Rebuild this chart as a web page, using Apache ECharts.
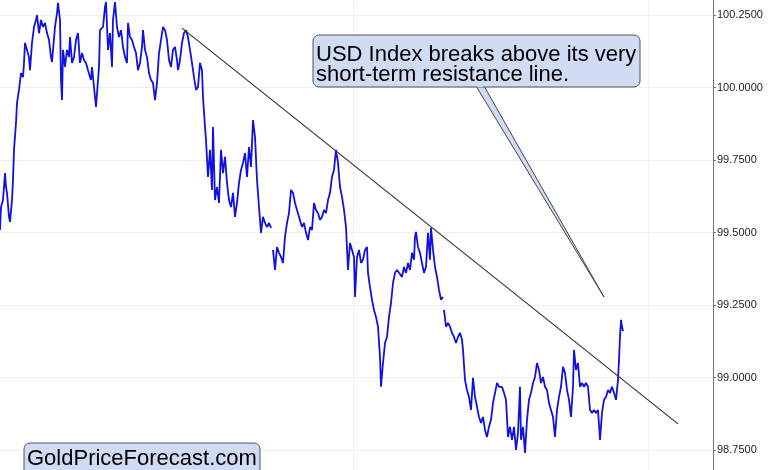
<!DOCTYPE html>
<html>
<head>
<meta charset="utf-8">
<script src="https://cdn.jsdelivr.net/npm/echarts@6/dist/echarts.min.js"></script>
<style>
html,body{margin:0;padding:0;background:#fff;}
#chart{width:780px;height:470px;}
</style>
</head>
<body>
<div id="chart"></div>
<script>
// Bar number (5-min bars along the session) for each close reading
const bars = [0,1,3,5,6,7,9,10,12,13,14,16,17,19,21,23,24,25,27,29,30,32,34,36,37,39,41,43,45,47,49,51,52,53,55,57,58,60,61,62,63,65,67,69,70,72,74,76,78,80,82,84,86,88,90,91,92,94,96,98,99,
100,103,105,106,108,110,112,113,115,117,119,121,123,125,127,128,130,132,134,136,138,140,142,143,145,147,149,151,153,155,157,159,161,163,165,167,169,171,173,175,177,178,180,182,184,186,188,190,192,194,196,198,
200,202,203,205,206,208,210,212,213,215,217,219,221,223,225,227,229,231,233,235,237,239,241,243,245,247,249,251,253,255,257,259,261,263,265,267,269,271,272,273,275,277,279,281,283,285,287,289,291,293,295,297,299,
302,304,306,308,310,312,314,316,318,320,322,324,326,328,330,332,334,336,338,340,342,344,346,348,350,352,354,355,357,359,361,363,365,367,368,370,372,374,376,378,380,381,383,385,387,389,391,393,395,397,399,
402,404,406,408,410,412,414,415,416,418,420,422,424,426,428,430,431,433,435,437,439,441,443,443.5,444,446,448,450,452,454,456,458,460,462,463,465,467,469,471,473,475,477,479,481,483,485,487,489,491,493,495,497,499,
502,504,506,508,510,512,514,516,518,520,521,523,525,527,529,531,533,535,537,539,541,543,545,547,549,551,553,555,557,559,561,563,565,567,569,571,573,574,576,578,580,582,584,586,588,590,592,594,596,598,
600,602,604,606,608,610,612,614,616,618,619,620,621,622,623];

// USD Index closes (null = session break)
const closes = [99.509,99.588,99.612,99.705,99.657,99.637,99.554,99.537,99.612,99.681,99.785,99.878,99.947,99.992,100.050,100.036,100.085,100.154,100.130,100.105,100.060,100.154,100.209,100.233,100.250,100.188,100.233,100.209,100.223,100.188,100.164,100.105,100.088,100.130,100.209,100.257,100.292,100.233,100.026,99.957,100.130,100.071,100.130,100.105,100.174,100.085,100.105,100.164,100.188,100.085,100.119,100.095,100.085,100.060,100.036,100.026,100.071,100.002,99.933,100.026,100.071,
100.198,100.209,100.278,100.295,100.130,100.188,100.071,100.233,100.295,100.209,100.174,100.198,100.140,100.105,100.085,100.223,100.174,100.164,100.140,100.119,100.060,100.085,100.140,100.198,100.130,100.105,100.050,100.026,100.016,99.957,100.016,100.119,100.164,100.209,100.198,100.164,100.095,100.071,100.130,100.140,100.095,100.060,100.095,100.154,100.188,100.198,100.174,100.130,100.085,100.036,99.992,100.002,
100.085,100.060,99.967,99.864,99.819,99.692,99.785,99.647,99.864,99.612,99.657,99.602,99.785,99.705,99.761,99.671,99.612,99.588,99.637,99.554,99.602,99.671,99.716,99.740,99.774,99.692,99.795,99.726,99.888,99.830,99.681,99.588,99.499,99.554,99.533,99.519,99.533,99.516,null,99.440,99.371,99.450,99.430,99.416,99.395,99.485,99.533,99.567,99.647,99.637,99.602,99.578,99.554,
99.519,99.533,99.499,99.474,99.519,99.509,99.602,99.578,99.567,99.543,99.554,99.578,99.567,99.612,99.637,99.692,99.716,99.785,99.740,99.657,99.623,99.578,99.519,99.371,99.464,99.440,99.416,99.278,99.416,99.440,99.395,99.406,99.440,99.450,99.361,99.312,99.268,99.233,99.209,99.175,99.071,98.968,99.050,99.119,99.140,99.209,99.257,99.326,99.361,99.371,99.361,
99.347,99.381,99.361,99.395,99.371,99.430,99.406,99.485,99.502,99.450,99.430,99.395,99.361,99.381,99.499,99.406,99.516,99.440,99.381,99.347,99.302,99.268,99.278,null,99.233,99.175,99.188,99.175,99.154,99.140,99.119,99.140,99.154,99.130,99.095,98.992,98.957,98.933,98.888,98.999,98.933,98.899,98.864,98.843,98.864,98.819,98.795,98.830,98.854,98.912,98.947,98.981,98.968,
98.968,98.947,98.923,98.795,98.830,98.785,98.830,98.750,98.809,98.968,98.785,98.830,98.740,98.854,98.923,98.947,98.981,99.002,99.050,99.026,98.981,99.002,98.968,98.957,98.912,98.888,98.864,98.795,98.888,98.933,98.968,99.037,99.016,98.957,98.923,98.864,98.968,99.095,99.026,99.050,98.968,98.981,98.968,98.981,98.968,98.888,98.878,98.888,98.878,98.888,
98.785,98.878,98.923,98.933,98.957,98.947,98.968,98.947,98.923,98.992,99.061,99.140,99.199,99.175,99.160];

// Resistance line anchors [bar, value]
const resistanceStart = [182, 100.205];
const resistanceEnd = [678, 98.840];

// Right-axis tick values / visible range / last price
const yTicks = [98.75, 99.0, 99.25, 99.5, 99.75, 100.0, 100.25];
const yRange = [98.681, 100.302];
const lastPrice = 99.16;
const sessionDividers = [353, 648];

const annotationLines = ['USD Index breaks above its very', 'short-term resistance line.'];
const watermark = 'GoldPriceForecast.com';

const seriesData = bars.map((b, i) => [b, closes[i] === null ? '-' : closes[i]]);

const chart = echarts.init(document.getElementById('chart'), null, {renderer: 'canvas'});
const FONT = '"Liberation Sans", Arial, Helvetica, sans-serif';
const boxFill = '#cfdcf4';

chart.setOption({
  animation: false,
  backgroundColor: '#ffffff',
  grid: {left: 0, right: 67, top: 0, bottom: 0},
  xAxis: {
    type: 'value', min: 0, max: 713,
    axisLine: {show: false}, axisTick: {show: false}, axisLabel: {show: false},
    splitLine: {show: false}
  },
  yAxis: {
    type: 'value', position: 'right', min: yRange[0], max: yRange[1],
    axisLine: {show: true, onZero: false, lineStyle: {color: '#777', width: 1}},
    axisTick: {show: true, length: 3, customValues: yTicks, lineStyle: {color: '#777'}},
    axisLabel: {
      show: true, margin: 4, color: '#222', fontSize: 11, fontFamily: FONT,
      customValues: yTicks,
      formatter: v => Number(v).toFixed(4)
    },
    splitLine: {show: false}
  },
  series: [
    {
      type: 'line', data: [], silent: true, z: 0,
      markLine: {
        silent: true, symbol: 'none', label: {show: false}, z: 0,
        lineStyle: {color: '#efefef', type: 'solid', width: 1},
        data: sessionDividers.map(d => ({xAxis: d})).concat(yTicks.map(t => ({yAxis: t})))
      }
    },
    {
      type: 'line', data: seriesData, showSymbol: false, connectNulls: false,
      lineStyle: {color: '#1212e0', width: 1.8}, z: 3,
      markLine: {
        silent: true, symbol: 'none', z: 6,
        lineStyle: {width: 0, opacity: 0},
        label: {
          show: true, position: 'end', distance: 0,
          formatter: () => lastPrice.toFixed(4),
          color: '#fff', backgroundColor: '#000', fontSize: 11, fontFamily: FONT,
          padding: [3, 3, 2, 2]
        },
        data: [{yAxis: lastPrice}]
      }
    },
    {
      type: 'line', data: [resistanceStart, resistanceEnd], showSymbol: false,
      lineStyle: {color: '#333', width: 1.2}, z: 4
    }
  ],
  graphic: [
    {type: 'polygon', z: 10, shape: {points: [[476, 86], [484, 86], [604, 297]]},
     style: {fill: boxFill, stroke: '#444', lineWidth: 1}},
    {type: 'rect', z: 11, shape: {x: 313, y: 35, width: 327, height: 52, r: 6},
     style: {fill: boxFill, stroke: '#555', lineWidth: 1}},
    {type: 'rect', z: 12, shape: {x: 477, y: 85, width: 6, height: 2},
     style: {fill: boxFill}},
    {type: 'text', z: 13, style: {text: annotationLines[0], x: 316, y: 55, font: '22px ' + FONT, fill: '#000', verticalAlign: 'middle'}},
    {type: 'text', z: 13, style: {text: annotationLines[1], x: 316, y: 75, font: '22px ' + FONT, fill: '#000', verticalAlign: 'middle'}},
    {type: 'rect', z: 11, shape: {x: 24, y: 443, width: 236, height: 40, r: 6},
     style: {fill: boxFill, stroke: '#555', lineWidth: 1}},
    {type: 'text', z: 13, style: {text: watermark, x: 27, y: 459, font: '22px ' + FONT, fill: '#000', verticalAlign: 'middle'}}
  ]
});
</script>
</body>
</html>
